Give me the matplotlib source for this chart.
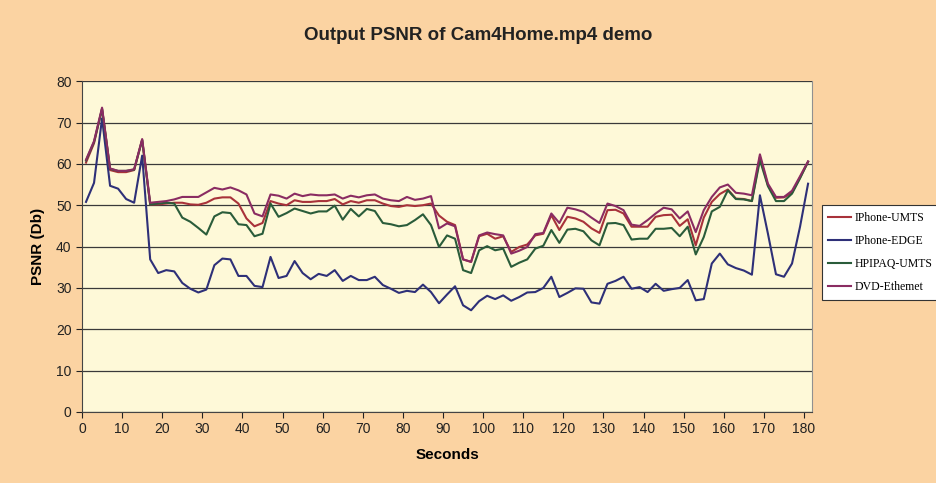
import matplotlib
matplotlib.use('Agg')
import matplotlib.pyplot as plt

# sample times (s)
seconds = list(range(1, 182, 2))

iphone_umts = [60.3, 65.0, 73.3, 58.5, 58.0, 58.0, 58.5, 65.8, 50.2, 50.2, 50.4, 50.6, 50.6, 50.2, 50.1,
               50.6, 51.6, 51.9, 51.9, 50.4, 46.8, 44.9, 45.7, 51.0, 50.4, 50.0, 51.2, 50.8, 50.8, 51.0,
               51.0, 51.5, 50.2, 51.0, 50.6, 51.2, 51.2, 50.4, 49.8, 49.6, 50.0, 49.8, 50.0, 50.4, 47.5,
               46.0, 45.2, 36.9, 36.3, 42.5, 43.1, 41.9, 42.5, 38.7, 39.9, 40.5, 42.7, 43.1, 47.6, 44.0,
               47.2, 46.8, 46.0, 44.4, 43.3, 48.8, 48.9, 48.0, 44.8, 44.8, 44.8, 47.2, 47.6, 47.7, 45.0,
               46.6, 40.3, 47.0, 50.8, 52.7, 53.8, 51.6, 51.5, 51.0, 61.7, 54.8, 51.8, 51.9, 53.0, 56.7, 60.5]

iphone_edge = [50.8, 55.4, 71.0, 54.7, 54.0, 51.5, 50.6, 62.0, 36.9, 33.6, 34.3, 34.0, 31.2, 29.8, 28.9,
               29.6, 35.5, 37.1, 36.9, 32.9, 32.9, 30.5, 30.2, 37.5, 32.4, 32.9, 36.5, 33.6, 32.1, 33.4,
               32.9, 34.3, 31.7, 32.9, 31.9, 31.9, 32.7, 30.7, 29.8, 28.8, 29.3, 29.0, 30.8, 29.0, 26.3,
               28.4, 30.4, 25.8, 24.6, 26.8, 28.1, 27.3, 28.2, 26.9, 27.8, 28.9, 29.0, 30.0, 32.7, 27.8,
               28.8, 29.9, 29.8, 26.5, 26.2, 31.0, 31.7, 32.7, 29.8, 30.2, 29.0, 31.0, 29.3, 29.7, 30.0,
               31.9, 27.0, 27.3, 35.9, 38.3, 35.7, 34.8, 34.2, 33.2, 52.4, 43.1, 33.3, 32.7, 35.9, 44.8, 55.2]

hpipaq_umts = [60.8, 65.3, 73.3, 58.8, 58.3, 58.3, 58.6, 65.8, 50.2, 50.4, 50.6, 50.4, 47.0, 46.0, 44.5,
               42.9, 47.3, 48.3, 48.1, 45.4, 45.2, 42.5, 43.1, 50.4, 47.2, 48.1, 49.2, 48.6, 48.0, 48.5,
               48.5, 49.9, 46.5, 49.1, 47.3, 49.1, 48.6, 45.7, 45.4, 44.9, 45.2, 46.4, 47.8, 45.2, 39.9,
               42.7, 41.9, 34.3, 33.6, 39.1, 40.1, 39.1, 39.5, 35.1, 36.1, 36.9, 39.5, 40.2, 44.0, 40.9,
               44.1, 44.3, 43.7, 41.5, 40.3, 45.6, 45.7, 45.2, 41.7, 41.9, 41.9, 44.3, 44.3, 44.5, 42.5,
               44.8, 38.1, 42.3, 48.5, 49.6, 53.6, 51.5, 51.4, 51.0, 60.9, 54.6, 51.0, 51.0, 52.8, 56.5, 60.5]

dvd_ethernet = [61.0, 65.5, 73.6, 58.9, 58.3, 58.3, 58.7, 66.0, 50.6, 50.8, 51.0, 51.4, 52.0, 52.0, 52.0,
                53.1, 54.2, 53.8, 54.3, 53.6, 52.6, 48.0, 47.3, 52.6, 52.3, 51.6, 52.8, 52.2, 52.6, 52.4,
                52.4, 52.6, 51.6, 52.3, 51.9, 52.4, 52.6, 51.6, 51.2, 51.0, 52.0, 51.3, 51.6, 52.2, 44.4,
                45.6, 44.9, 36.9, 36.3, 42.7, 43.4, 43.0, 42.7, 38.3, 39.0, 39.9, 43.0, 43.3, 48.0, 45.7,
                49.4, 49.0, 48.4, 47.0, 45.7, 50.4, 49.8, 48.8, 45.3, 45.0, 46.4, 48.0, 49.4, 49.0, 46.8,
                48.5, 43.5, 48.8, 52.0, 54.3, 55.0, 53.0, 52.8, 52.4, 62.3, 55.2, 52.0, 52.0, 53.5, 57.0, 60.6]

labels = ['IPhone-UMTS', 'IPhone-EDGE', 'HPIPAQ-UMTS', 'DVD-Ethemet']
colors = ['#A8323A', '#2E3078', '#2A5C3A', '#8A2C62']

plt.rcParams['font.family'] = ['Liberation Sans', 'DejaVu Sans']

fig = plt.figure(figsize=(9.36, 4.83), dpi=100, facecolor='#FBD3A2')
ax = fig.add_axes([0.0876, 0.147, 0.780, 0.685], facecolor='#FEF9D8')

for vals, lab, col in zip([iphone_umts, iphone_edge, hpipaq_umts, dvd_ethernet], labels, colors):
    ax.plot(seconds, vals, color=col, lw=1.5, label=lab)

ax.set_xlim(0, 182)
ax.set_ylim(0, 80)
ax.set_xticks(range(0, 181, 10))
ax.set_yticks(range(0, 81, 10))
ax.yaxis.grid(True, color='#3a3a3a', lw=0.9)
ax.set_axisbelow(True)
ax.tick_params(labelsize=10, colors='#222222', length=4)
ax.spines['top'].set_visible(False)
ax.spines['right'].set_color('#909090')
ax.spines['left'].set_color('#444444')
ax.spines['bottom'].set_color('#444444')

fig.text(0.511, 0.927, 'Output PSNR of Cam4Home.mp4 demo', fontsize=13.5, fontweight='bold',
         ha='center', va='center', color='#222222')
ax.set_xlabel('Seconds', fontsize=11, fontweight='bold', labelpad=8)
ax.set_ylabel('PSNR (Db)', fontsize=11, fontweight='bold', labelpad=8)

leg = fig.legend(loc='upper left', bbox_to_anchor=(0.878, 0.575), frameon=True, fancybox=False,
                 edgecolor='#333333', facecolor='white', framealpha=1,
                 prop={'family': 'Liberation Serif', 'size': 8.5},
                 handlelength=1.9, handletextpad=0.3, labelspacing=0.95, borderpad=0.55,
                 borderaxespad=0)
leg.get_frame().set_linewidth(0.8)

fig.savefig('out.png', dpi=100, facecolor=fig.get_facecolor())
